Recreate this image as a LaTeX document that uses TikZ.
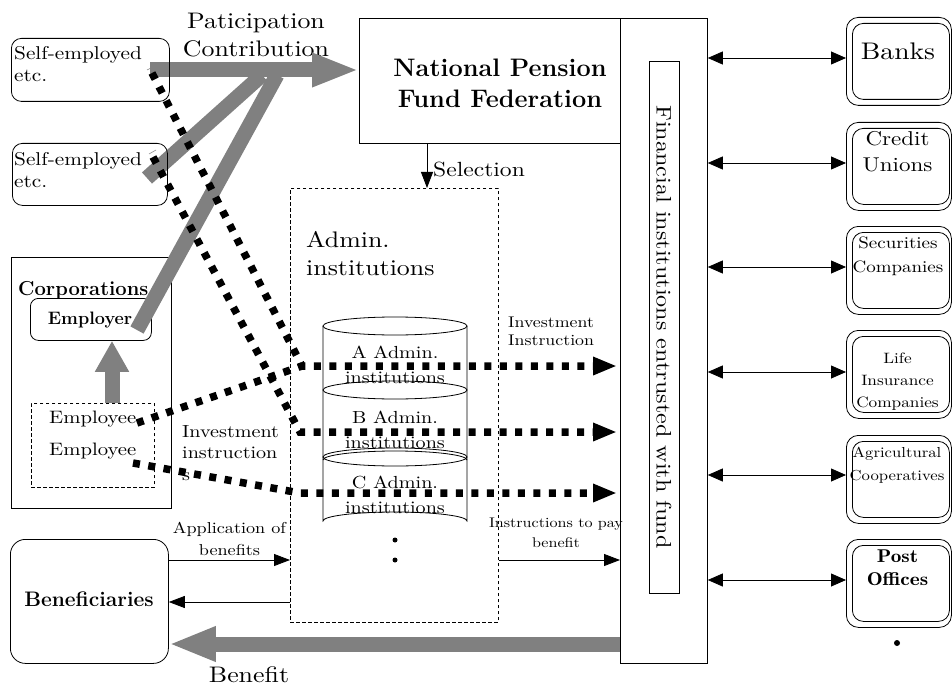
\documentclass[tikz,border=0pt]{standalone}
\usepackage{fontspec}
\usetikzlibrary{arrows.meta,calc}
\newfontfamily\wide{lmroman10-regular.otf}[FakeStretch=1.15]
\newfontfamily\demi{lmromandemi10-regular.otf}[FakeStretch=1.15]
\newcommand\fsz[2]{\fontsize{#1pt}{#2pt}\selectfont}
\newcommand\mlc[1]{\begin{tabular}[t]{@{}c@{}}#1\end{tabular}}
\newcommand\mll[1]{\begin{tabular}[t]{@{}l@{}}#1\end{tabular}}
\definecolor{bandgray}{RGB}{128,128,128}
\begin{document}
\begin{tikzpicture}[x=1pt,y=-1pt,
  box/.style={draw, inner sep=0pt, line width=0.8pt},
  rbox/.style={box, rounded corners=#1},
  dbox/.style={draw, dash pattern=on 3.5pt off 2.5pt, line width=0.6pt, inner sep=0pt},
  txt/.style={inner sep=0pt},
  thin arrow/.style={line width=0.8pt, -{Triangle[length=16pt,width=12pt]}},
  dbl arrow/.style={line width=0.8pt, {Triangle[length=15pt,width=13pt]}-{Triangle[length=15pt,width=13pt]}},
  band/.style={line width=15pt, draw=bandgray},
  dots/.style={line width=7.5pt, dash pattern=on 7pt off 8.5pt},
  dot tip/.style={-{Triangle[length=24pt,width=17pt]}}
]
\useasboundingbox[fill=white] (0,0) rectangle (952,687);

% ---------- left boxes ----------
\node[box, minimum width=160pt, minimum height=251pt, anchor=north west] (corp) at (11,257) {};
\node[rbox=8pt, minimum width=121pt, minimum height=42pt, anchor=north west] (employer) at (30,298) {};
\node[dbox, minimum width=123pt, minimum height=84pt, anchor=north west] (employee) at (31,403) {};
\node[rbox=15pt, minimum width=158pt, minimum height=124pt, anchor=north west] (benef) at (10,539) {};

% ---------- centre ----------
\node[box, minimum width=261pt, minimum height=125pt, anchor=north west] (npff) at (359,18) {};
\node[dbox, minimum width=208pt, minimum height=434pt, anchor=north west] (admin) at (290,188) {};
\node[box, minimum width=87pt, minimum height=645pt, anchor=north west] (fin) at (620,18) {};
\node[box, line width=1.2pt, minimum width=30pt, minimum height=532pt, anchor=north west] (fini) at (649,61) {};

% ---------- right boxes ----------
\foreach \nm/\t in {banks/17,credit/122,secur/226,life/330,agri/435,post/539}{
  \node[rbox=12pt, minimum width=105pt, minimum height=88pt, anchor=north west] (\nm) at (846,\t) {};
  \node[rbox=11pt, minimum width=97pt, minimum height=76pt, anchor=north west] (\nm i) at (852,\t+6) {};
}

% ---------- cylinders ----------
\coordinate (cyl) at (395,326);
\draw[line width=0.8pt, fill=white] (323,326) -- (323,521)
   arc[start angle=180, end angle=360, x radius=72, y radius=9] -- (467,326);
\draw[line width=0.8pt] (cyl) ellipse[x radius=72, y radius=9];
\draw[line width=0.8pt] (395,390) ellipse[x radius=72, y radius=9];
\draw[line width=0.8pt] (395,457) ellipse[x radius=72, y radius=9];
\draw[line width=0.8pt] (323,460) arc[start angle=180, end angle=360, x radius=72, y radius=9];
\fill (395,540) circle[radius=2.5];
\fill (395,560) circle[radius=2.5];
\fill (897,643) circle[radius=3];

% ---------- texts ----------
\node[txt, font=\wide\fsz{22.5}{28}, anchor=base] (tpart) at (256,29) {\mlc{Paticipation\\Contribution}};
\node[txt, font=\wide\fsz{18.5}{22}, anchor=base west] (tse1) at (14,60) {\mll{Self-employed\\etc.}};
\node[txt, font=\wide\fsz{18.5}{22}, anchor=base west] (tse2) at (14,165) {\mll{Self-employed\\etc.}};
\node[txt, font=\bfseries\fsz{20.2}{24}, anchor=base west] (tcorp) at (18,295) {Corporations};
\node[txt, font=\bfseries\fsz{18}{20}, anchor=base] (temployer) at (90,324) {Employer};
\node[txt, font=\wide\fsz{18}{32}, anchor=base west] (tee) at (49,423) {\mll{Employee\\Employee}};
\node[txt, font=\wide\fsz{17.5}{21.5}, anchor=base west] (tinv) at (182,437) {\mll{Investment\\instruction\\s}};
\node[txt, font=\wide\fsz{15.8}{22}, anchor=base] (tapp) at (229.5,533) {\mlc{Application of\\benefits}};
\node[txt, font=\bfseries\fsz{21}{24}, anchor=base] (tben) at (89,606) {Beneficiaries};
\node[txt, font=\wide\fsz{22.5}{28}, anchor=base] (tbenefit) at (249,682) {Benefit};
\node[txt, font=\bfseries\fsz{25.3}{31}, anchor=base] (tnpff) at (500,77) {\mlc{National Pension\\Fund Federation}};
\node[txt, font=\wide\fsz{20.5}{24}, anchor=base west] (tsel) at (433,176) {Selection};
\node[txt, font=\wide\fsz{22.5}{28}, anchor=base west] (tadmin) at (306,247) {\mll{Admin.\\institutions}};
\node[txt, font=\wide\fsz{17.5}{25}, anchor=base] (ta) at (395,358) {\mlc{A Admin.\\institutions}};
\node[txt, font=\wide\fsz{17.5}{25}, anchor=base] (tb) at (395,423) {\mlc{B Admin.\\institutions}};
\node[txt, font=\wide\fsz{17.5}{25}, anchor=base] (tc) at (395,488) {\mlc{C Admin.\\institutions}};
\node[txt, font=\wide\fsz{15.5}{18}, anchor=base west] (tii) at (508,327) {\mll{Investment\\Instruction}};
\node[txt, font=\wide\fsz{14}{20}, anchor=base] (tpay) at (556,527) {\mlc{Instructions to pay\\benefit}};
\node[txt, font=\wide\fsz{21}{25}, rotate=-90] (tfin) at (664,327) {Financial institutions entrusted with fund};
\node[txt, font=\wide\fsz{24}{28}, anchor=base] (tbanks) at (898,60) {Banks};
\node[txt, font=\wide\fsz{20}{26}, anchor=base] (tcredit) at (897.5,146) {\mlc{Credit\\Unions}};
\node[txt, font=\wide\fsz{16.5}{24}, anchor=base] (tsecur) at (898,248) {\mlc{Securities\\Companies}};
\node[txt, font=\wide\fsz{15}{22}, anchor=base] (tlife) at (897.5,363) {\mlc{Life\\Insurance\\Companies}};
\node[txt, font=\wide\fsz{14.5}{23}, anchor=base] (tagri) at (897,457) {\mlc{Agricultural\\Cooperatives}};
\node[txt, font=\demi\fsz{18.5}{23}, anchor=base] (tpost) at (897.5,562) {\mlc{Post\\Offices}};

% ---------- thin arrows ----------
\coordinate (xs) at (427,0);
\draw[thin arrow] (npff.south -| xs) -- (admin.north -| xs);
\coordinate (yapp) at (0,560);
\coordinate (yback) at (0,602);
\draw[thin arrow] (benef.east |- yapp) -- (admin.west |- yapp);
\draw[thin arrow] (admin.west |- yback) -- (benef.east |- yback);
\draw[thin arrow] (admin.east |- yapp) -- (fin.west |- yapp);
\foreach \nm/\y in {banks/58,credit/163,secur/267,life/372,agri/475,post/580}{
  \coordinate (a\nm) at (0,\y);
  \draw[dbl arrow] (fin.east |- a\nm) -- (\nm.west |- a\nm);
}

% ---------- gray bands ----------
\coordinate (p0) at (150,70);
\coordinate (p1) at (147,178);
\coordinate (p2) at (262,75);
\coordinate (p3) at (137,330);
\coordinate (p4) at (277,75);
\draw[band, -{Triangle[length=47pt,width=31pt]}] (p0) -- (npff.west |- p0);
\draw[band] (p1) -- (p2);
\draw[band] (p3) -- (p4);
\coordinate (ex) at (112,0);
\draw[band, -{Triangle[length=31pt,width=32pt]}] (employee.north -| ex) -- (employer.south -| ex);
\coordinate (yb) at (0,644);
\draw[band, -{Triangle[length=47pt,width=32pt]}] (fin.west |- yb) -- (benef.east |- yb);

% self-employed boxes (borders over the bands)
\node[rbox=10pt, minimum width=158pt, minimum height=63pt, anchor=north west] (se1) at (11,38) {};
\node[rbox=10pt, minimum width=155pt, minimum height=62pt, anchor=north west] (se2) at (12,143) {};
\draw[bandgray, line width=0.5pt] (147,70) -- (153,67);
\draw[bandgray, line width=0.5pt] (149,154) -- (156,150);

% ---------- dotted instruction lines ----------
\coordinate (s1) at (152,73);
\coordinate (s2) at (153,157);
\coordinate (e1) at (137,423);
\coordinate (e2) at (133,463);
\coordinate (ka) at (302,366);
\coordinate (kb) at (300,432);
\coordinate (kc) at (300,493);
\coordinate (ta) at (617,366);
\coordinate (tb) at (617,432);
\coordinate (tc) at (617,493);
\draw[dots, dot tip] (s1) -- (ka) -- (ta);
\draw[dots] (e1) -- (ka);
\draw[dots, dot tip] (s2) -- (kb) -- (tb);
\draw[dots, dot tip] (e2) -- (kc) -- (tc);
\end{tikzpicture}
\end{document}
